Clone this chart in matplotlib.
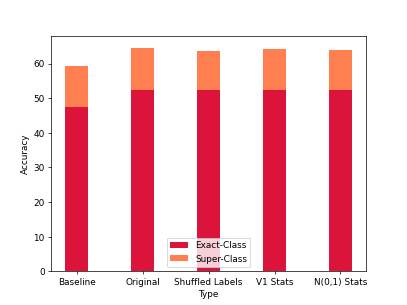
import numpy as np
import matplotlib
matplotlib.use('Agg')
import matplotlib.pyplot as plt

types = ['Baseline', 'Original', 'Shuffled Labels', 'V1 Stats', 'N(0,1) Stats']
exact_class = [47.4, 52.4, 52.3, 52.3, 52.3]
super_class = [59.3, 64.6, 63.5, 64.2, 64.0]

x_axis = np.arange(len(types))
fig = plt.figure(figsize=(6.4, 4.8), dpi=407 / 6.4)
plt.bar(x_axis, exact_class, 0.35, color='crimson', label='Exact-Class')
plt.bar(x_axis, np.array(super_class) - np.array(exact_class), 0.35,
        bottom=exact_class, color='coral', label='Super-Class')
plt.xticks(x_axis, types)
plt.xlabel('Type')
plt.ylabel('Accuracy')
plt.legend(loc='lower center')
plt.savefig('out.png')
